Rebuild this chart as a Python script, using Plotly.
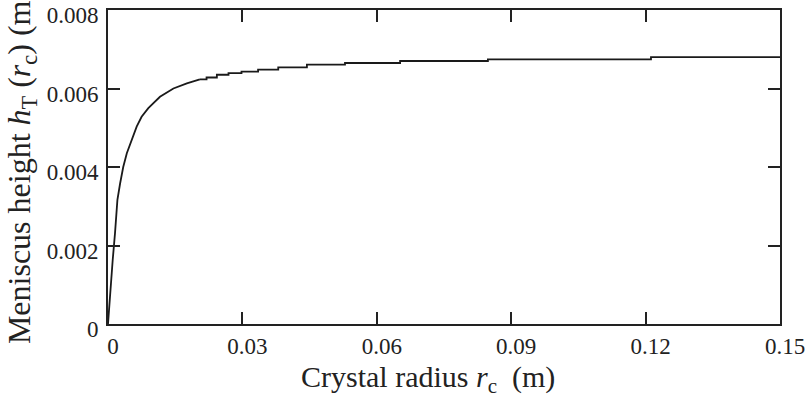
import plotly.graph_objects as go

# steep rise near the origin
r_rise = [0.0, 0.00045, 0.00105, 0.00156, 0.0021, 0.0027, 0.0034, 0.0042, 0.0053,
          0.0064, 0.0075, 0.0090, 0.0116, 0.0146, 0.0176, 0.0205]
h_rise = [0.0, 0.00078, 0.00163, 0.00231, 0.00316, 0.00358, 0.0040, 0.00435, 0.00469,
          0.00503, 0.00528, 0.00550, 0.00579, 0.00600, 0.00613, 0.00623]

# stair-stepped plateau
r_flat = [0.0205, 0.0220, 0.0243, 0.0269, 0.0298, 0.0335, 0.0380, 0.0444, 0.0529,
          0.0652, 0.0848, 0.1212, 0.15]
h_flat = [0.00623, 0.00628, 0.00635, 0.00639, 0.00643, 0.00648, 0.00654, 0.00661,
          0.00665, 0.00670, 0.00674, 0.00680, 0.00680]

x_ticks = [0, 0.03, 0.06, 0.09, 0.12, 0.15]
x_labels = ["0", "0.03", "0.06", "0.09", "0.12", "0.15"]
y_ticks = [0, 0.002, 0.004, 0.006, 0.008]
y_labels = ["0", "0.002", "0.004", "0.006", "0.008"]

FONT = "Liberation Serif, Times New Roman, serif"
INK = "#222"

fig = go.Figure()
fig.add_trace(go.Scatter(x=r_rise, y=h_rise, mode="lines",
                         line=dict(color="#1a1a1a", width=1.8), showlegend=False))
fig.add_trace(go.Scatter(x=r_flat, y=h_flat, mode="lines", line_shape="hv",
                         line=dict(color="#1a1a1a", width=1.8), showlegend=False))

axis_style = dict(
    showgrid=False, zeroline=False, automargin=False,
    showline=True, linecolor=INK, linewidth=2, mirror="ticks",
    ticks="inside", ticklen=12, tickwidth=2, tickcolor=INK,
    ticklabeloverflow="allow",
    tickfont=dict(family=FONT, size=23, color=INK),
)

fig.update_xaxes(range=[0, 0.15], tickvals=x_ticks, ticktext=x_labels,
                 ticklabelshift=5, **axis_style)
fig.update_yaxes(range=[0, 0.008], tickvals=y_ticks, ticktext=y_labels,
                 ticklabelshift=5, ticklabelstandoff=3,
                 title=dict(text="Meniscus height <i>h</i><sub>T</sub> (<i>r</i><sub>c</sub>) (m)",
                            font=dict(family=FONT, size=32, color=INK), standoff=6),
                 **axis_style)

# x title sits a little left of the plot centre in the original
fig.add_annotation(text="Crystal radius <i>r</i><sub>c</sub>  (m)",
                   xref="paper", yref="paper", x=0.476, y=-0.175,
                   xanchor="center", yanchor="middle", showarrow=False,
                   font=dict(family=FONT, size=30, color=INK))

fig.update_layout(
    width=808, height=412,
    margin=dict(l=108, r=28, t=10, b=88),
    plot_bgcolor="white", paper_bgcolor="white",
)

# drop the default body margin so the figure fills the window exactly
fig.write_html("out.html", config={"displayModeBar": False},
               post_script="document.body.style.margin = '0';")
